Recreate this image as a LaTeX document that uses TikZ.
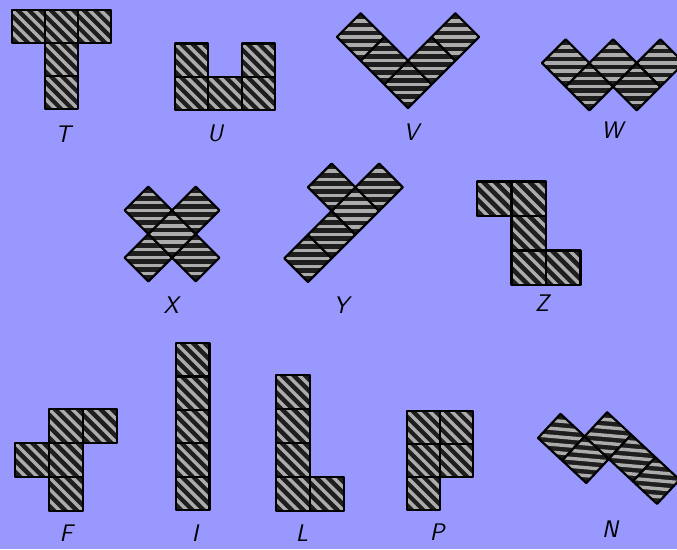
\documentclass[tikz,border=0pt]{standalone}
\usepackage{fontspec}
\definecolor{bgc}{RGB}{152,152,255}
\definecolor{cellc}{RGB}{30,30,30}
\definecolor{stripec}{RGB}{172,172,172}
\tikzset{
  cellfill/.style={fill=cellc},
  stripe/.style={draw=stripec,line width=3.4pt},
  cellborder/.style={draw=black,line width=2.2pt,line join=round},
  lbl/.style={inner sep=0pt,font=\fontsize{24}{24}\selectfont\sffamily\itshape}
}
\newcommand\pcell[3]{%
  \fill[cellfill] (#1,#2) rectangle ++(1,1);
  \begin{scope}
    \clip (#1,#2) rectangle ++(1,1);
    \foreach \k [evaluate=\k as \off using \k*0.24] in {-5,...,5}
      \draw[stripe,rotate around={#3:(#1+0.5,#2+0.5)}] (#1-0.5,#2+0.5+\off) -- ++(2,0);
  \end{scope}
  \draw[cellborder] (#1,#2) rectangle ++(1,1);}
\newcommand\pent[6]{%
  \begin{scope}[shift={(#2,-#3)},rotate=#4,x=#1pt,y=#1pt]
    \foreach \i/\j in {#6}{\pcell{\i}{\j}{#5}}
  \end{scope}}
\begin{document}
\begin{tikzpicture}[x=1pt,y=1pt]
\useasboundingbox (0,0) rectangle (677,-549);
\fill[bgc] (0,0) rectangle (677,-549);
\clip (0,0) rectangle (677,-549);
% row 1
\pent{33}{12}{109}{0}{-45}{0/2,1/2,2/2,1/1,1/0}
\pent{33.3}{175}{110}{0}{-45}{0/0,1/0,2/0,0/1,2/1}
\pent{33.5}{408}{108}{45}{-45}{0/0,1/0,2/0,0/1,0/2}
\pent{33.5}{542}{63}{-45}{45}{0/0,1/0,1/1,2/1,2/2}
% row 2
\pent{33.5}{172}{234}{45}{-45}{-0.5/-1.5,-1.5/-0.5,-0.5/-0.5,0.5/-0.5,-0.5/0.5}
\pent{33.5}{308}{282}{45}{-45}{0/0,1/0,2/0,3/0,2/1}
\pent{34.5}{477}{285}{0}{-45}{0/2,1/2,1/1,1/0,2/0}
% row 3
\pent{34}{15}{511}{0}{-45}{1/2,2/2,0/1,1/1,1/0}
\pent{33.4}{176}{510}{0}{-45}{0/0,0/1,0/2,0/3,0/4}
\pent{34}{276}{511}{0}{-45}{0/0,1/0,0/1,0/2,0/3}
\pent{33}{407}{510}{0}{-45}{0/0,0/1,1/1,0/2,1/2}
\pent{33}{538}{438}{-43}{38}{0/0,1/0,1/1,2/1,3/1}
% labels
\node[lbl] (lT) at (63,-134) {T};
\node[lbl] (lU) at (215,-133) {U};
\node[lbl] (lV) at (411,-132) {V};
\node[lbl] (lW) at (612,-130) {W};
\node[lbl] (lX) at (171,-305) {X};
\node[lbl] (lY) at (341,-305) {Y};
\node[lbl] (lZ) at (542,-303) {Z};
\node[lbl] (lF) at (66,-533) {F};
\node[lbl] (lI) at (195,-533) {I};
\node[lbl] (lL) at (302,-533) {L};
\node[lbl] (lP) at (437,-532) {P};
\node[lbl] (lN) at (610,-529) {N};
\end{tikzpicture}
\end{document}
